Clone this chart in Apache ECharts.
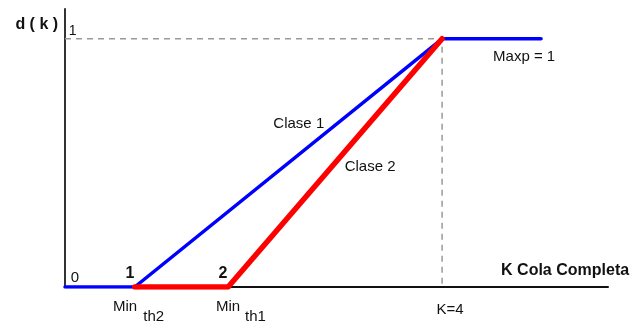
<!DOCTYPE html>
<html>
<head>
<meta charset="utf-8">
<script src="https://cdn.jsdelivr.net/npm/echarts@6/dist/echarts.min.js"></script>
<style>
html,body{margin:0;padding:0;background:#fff;}
#c{width:634px;height:321px;}
</style>
</head>
<body>
<div id="c"></div>
<script>
// x in queue units (K = 4), y = drop probability d(k)
var minTh2 = 0.74;
var minTh1 = 1.73;
var kMax = 4;
var maxP = 1;
var xEnd = 5.05;
var xAxisMax = 5.76;
var yAxisMax = 1.12;

var clase1 = [[0, 0], [minTh2, 0], [kMax, maxP], [xEnd, maxP]];
var clase2 = [[minTh2, 0], [minTh1, 0], [kMax, maxP]];
var guide = [[0, maxP], [kMax, maxP], [kMax, 0]];

// annotation texts anchored in data units
var annotations = [
  {t: 'd ( k )', x: -0.30, y: 1.056, f: 'bold 16px "Liberation Sans", Arial', a: 'center'},
  {t: '1', x: 0.08, y: 1.03, f: '14px "Liberation Sans", Arial', a: 'center'},
  {t: '0', x: 0.106, y: 0.036, f: '15px "Liberation Sans", Arial', a: 'center'},
  {t: '1', x: 0.69, y: 0.056, f: 'bold 16px "Liberation Sans", Arial', a: 'center'},
  {t: '2', x: 1.676, y: 0.056, f: 'bold 16px "Liberation Sans", Arial', a: 'center'},
  {t: 'Min', x: 0.637, y: -0.078, f: '15px "Liberation Sans", Arial', a: 'center'},
  {t: 'th2', x: 0.83, y: -0.122, f: '15px "Liberation Sans", Arial', a: 'left'},
  {t: 'Min', x: 1.73, y: -0.078, f: '15px "Liberation Sans", Arial', a: 'center'},
  {t: 'th1', x: 1.91, y: -0.122, f: '15px "Liberation Sans", Arial', a: 'left'},
  {t: 'K=4', x: 4.085, y: -0.093, f: '15px "Liberation Sans", Arial', a: 'center'},
  {t: 'K Cola Completa', x: 5.305, y: 0.065, f: 'bold 16px "Liberation Sans", Arial', a: 'center'},
  {t: 'Maxp = 1', x: 4.87, y: 0.927, f: '15px "Liberation Sans", Arial', a: 'center'},
  {t: 'Clase 1', x: 2.48, y: 0.657, f: '15px "Liberation Sans", Arial', a: 'center'},
  {t: 'Clase 2', x: 3.236, y: 0.484, f: '15px "Liberation Sans", Arial', a: 'center'}
];

var chart = echarts.init(document.getElementById('c'), null, {renderer: 'canvas'});
chart.setOption({
  animation: false,
  backgroundColor: '#ffffff',
  grid: {left: 65, right: 26, top: 9, bottom: 34},
  xAxis: {
    type: 'value', min: 0, max: xAxisMax,
    axisLine: {show: true, onZero: false, lineStyle: {color: '#111', width: 2}},
    axisTick: {show: false}, axisLabel: {show: false}, splitLine: {show: false}
  },
  yAxis: {
    type: 'value', min: 0, max: yAxisMax,
    axisLine: {show: true, lineStyle: {color: '#333', width: 2}},
    axisTick: {show: false}, axisLabel: {show: false}, splitLine: {show: false}
  },
  series: [
    {type: 'line', data: guide, symbol: 'none', silent: true,
     lineStyle: {color: '#999', width: 1.5, type: [6, 5]}},
    {type: 'line', data: clase1, symbol: 'none',
     lineStyle: {color: '#0000ff', width: 3.5, cap: 'round', join: 'round'}},
    {type: 'line', data: clase2, symbol: 'none',
     lineStyle: {color: '#ff0000', width: 5.5, cap: 'round', join: 'round'}}
  ]
});

var els = annotations.map(function (d) {
  var p = chart.convertToPixel({gridIndex: 0}, [d.x, d.y]);
  return {
    type: 'text', x: p[0], y: p[1], silent: true,
    style: {text: d.t, font: d.f, fill: '#111',
      textAlign: d.a, align: d.a, textVerticalAlign: 'middle', verticalAlign: 'middle'}
  };
});
chart.setOption({graphic: {elements: els}});
</script>
</body>
</html>
